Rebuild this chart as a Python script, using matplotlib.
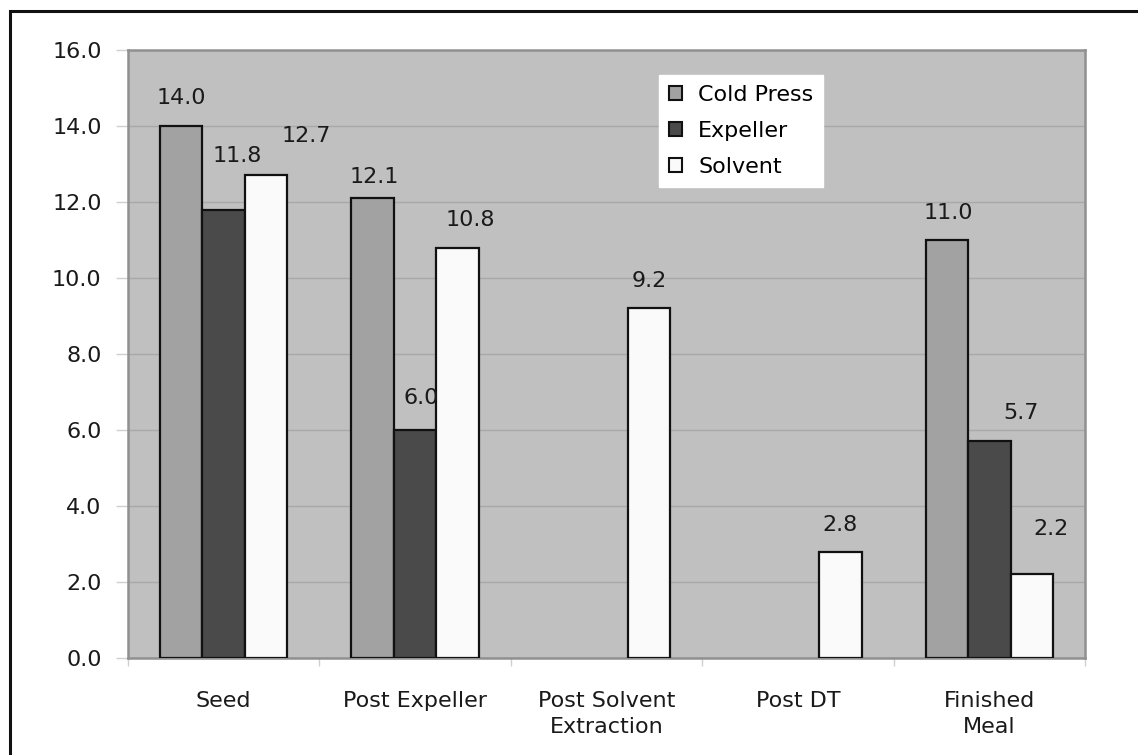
import numpy as np
import matplotlib
matplotlib.use("Agg")
import matplotlib.pyplot as plt
from matplotlib.patches import Rectangle

# dati (nan = barra assente)
categories = ["Seed", "Post Expeller", "Post Solvent\nExtraction", "Post DT", "Finished\nMeal"]
series = ["Cold Press", "Expeller", "Solvent"]
cold_press = [14.0, 12.1, np.nan, np.nan, 11.0]
expeller = [11.8, 6.0, np.nan, np.nan, 5.7]
solvent = [12.7, 10.8, 9.2, 2.8, 2.2]
y_ticks = [0, 2, 4, 6, 8, 10, 12, 14, 16]

values = [cold_press, expeller, solvent]
colors = ["#a2a2a2", "#4a4a4a", "#fafafa"]

# spostamento delle etichette (pixel) rispetto al centro/cima della barra
label_dx = [[0, 2, 0, 0, 2],
            [14, 6, 0, 0, 32],
            [40, 13, 0, 0, 19]]
label_dy = [[28, 21, 0, 0, 27],
            [54, 32, 0, 0, 28],
            [39, 28, 27, 27, 45]]

plt.rcParams['font.family'] = ['DejaVu Sans']

fig = plt.figure(figsize=(11.38, 7.55), dpi=100)
ax = fig.add_axes([128/1138, 1 - 658/755, (1085-128)/1138, (658-50)/755])
ax.set_facecolor("#c0c0c0")

x = np.arange(len(categories))
w = 0.222
for j in range(len(series)):
    pos = x + (j - 1) * w
    ok = ~np.isnan(values[j])
    ax.bar(pos[ok], np.array(values[j])[ok], w, color=colors[j], edgecolor="#111111",
           linewidth=1.6, label=series[j], zorder=3)
    for i in range(len(categories)):
        v = values[j][i]
        if np.isnan(v):
            continue
        ax.annotate(f"{v:.1f}", (pos[i], v), xytext=(label_dx[j][i], label_dy[j][i]),
                    textcoords="offset pixels", ha="center", va="center",
                    fontsize=16, color="#1a1a1a", zorder=4)

ax.set_xlim(-0.5, len(categories) - 0.5)
ax.set_ylim(0, 16)
ax.set_yticks(y_ticks)
ax.set_yticklabels([f"{t:.1f}" for t in y_ticks], fontsize=16, color="#1a1a1a")
ax.yaxis.grid(True, color="#a8a8a8", linewidth=1, zorder=0)
ax.set_axisbelow(True)
ax.tick_params(axis="y", length=9, width=1, color="#d0d0d0", pad=10)

# tick tra le categorie, etichette al centro
ax.set_xticks(np.arange(len(categories) + 1) - 0.5)
ax.set_xticklabels([])
ax.tick_params(axis="x", which="major", length=6, width=1, color="#d0d0d0", direction="out")
ax.set_xticks(x, minor=True)
ax.set_xticklabels(categories, minor=True, fontsize=16, color="#1a1a1a", linespacing=1.35,
                   va="top")
ax.tick_params(axis="x", which="minor", length=0, pad=24)

for s in ["left", "right", "top", "bottom"]:
    ax.spines[s].set_color("#909090")
    ax.spines[s].set_linewidth(1.8)

leg = ax.legend(loc="upper left", bbox_to_anchor=(0.555, 0.959), borderaxespad=0,
                fontsize=16, frameon=True, fancybox=False, framealpha=1,
                handlelength=0.6, handleheight=0.6, handletextpad=0.7,
                labelspacing=0.72, borderpad=0.45)
leg.get_frame().set_facecolor("white")
leg.get_frame().set_edgecolor("white")
for h in leg.legend_handles:
    h.set_linewidth(1.5)

# cornice esterna
fig.patches.append(Rectangle((10/1138, -0.5), 2, 0.5 + 1 - 11/755, transform=fig.transFigure,
                             fill=False, linewidth=2.2, edgecolor="#111111"))

fig.savefig("out.png", dpi=100, facecolor="white")
